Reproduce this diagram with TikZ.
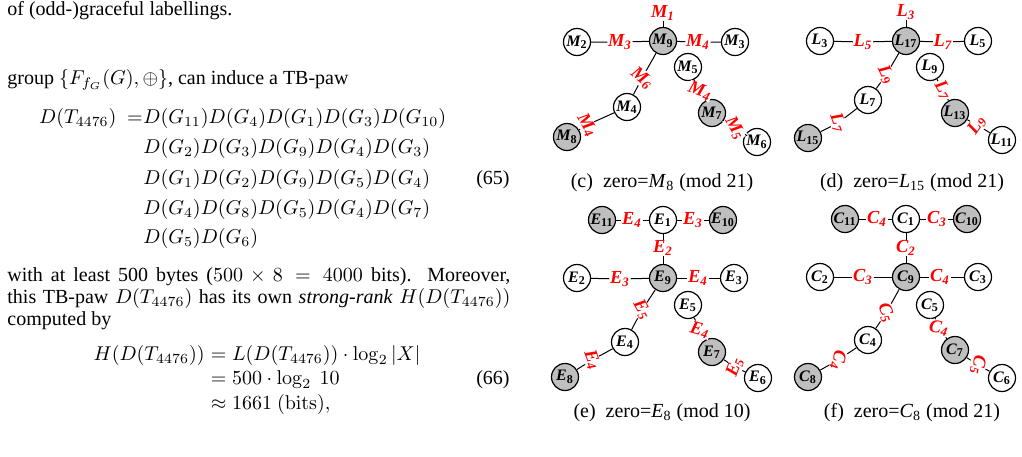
\documentclass[tikz,border=0pt]{standalone}
\usepackage[no-math]{fontspec}
\setmainfont{Liberation Serif}
\newcommand\vl[2]{#1\textsubscript{\upshape #2}}
\newcommand\elab[2]{#1\textsubscript{#2}}
\begin{document}
\begin{tikzpicture}[x=0.5pt,y=-0.5pt,
  txt/.style={anchor=base west,inner sep=0pt,font=\fontsize{10}{12}\selectfont},
  vtx/.style={circle,draw,line width=0.6pt,minimum size=13.5pt,inner sep=0pt,
    font=\fontsize{8}{8}\selectfont\bfseries\itshape},
  vtxg/.style={vtx,fill=gray!50},
  elb/.style={text=red,fill=white,inner sep=0.2pt,
    font=\fontsize{9.2}{9.2}\selectfont\bfseries\itshape},
  edg/.style={line width=0.5pt},
  capt/.style={anchor=base,inner sep=0pt,font=\fontsize{10}{12}\selectfont}]
\useasboundingbox (0,0) rectangle (1022,456);

% ---------------- left column text ----------------
\node[txt] (t1) at (7,15) {of (odd-)graceful labellings.};
\node[txt] (t2) at (7,84) {group $\{F_{f_G}(G),\oplus\}$, can induce a TB-paw};

\node[txt,anchor=base east] (e65l) at (143,123) {$D(T_{4476})\ =$};
\node[txt] (e65a) at (143,123) {$D(G_{11})D(G_4)D(G_1)D(G_3)D(G_{10})$};
\node[txt] (e65b) at (143,153) {$D(G_2)D(G_3)D(G_9)D(G_4)D(G_3)$};
\node[txt] (e65c) at (143,184) {$D(G_1)D(G_2)D(G_9)D(G_5)D(G_4)$};
\node[txt] (e65d) at (143,214) {$D(G_4)D(G_8)D(G_5)D(G_4)D(G_7)$};
\node[txt] (e65e) at (143,243) {$D(G_5)D(G_6)$};
\node[txt,anchor=base east] (n65) at (510,184) {(65)};

\node[txt] (p1) at (7,281) {\makebox[251.5pt][s]{with at least 500 bytes ($500\times 8=4000$ bits). Moreover,}};
\node[txt] (p2) at (7,303) {\makebox[251.5pt][s]{this TB-paw $D(T_{4476})$ has its own \textit{strong-rank} $H(D(T_{4476}))$}};
\node[txt] (p3) at (7,325) {computed by};

\node[txt,anchor=base east] (e66l) at (205,360) {$H(D(T_{4476}))$};
\node[txt] (e66a) at (205,360) {${}=L(D(T_{4476}))\cdot\log_2|X|$};
\node[txt] (e66b) at (205,384) {${}=500\cdot\log_2\ 10$};
\node[txt] (e66c) at (205,409) {${}\approx 1661\ (\mathrm{bits}),$};
\node[txt,anchor=base east] (n66) at (510,384) {(66)};

% ---------------- (c) ----------------
\node[vtxg] (cM9) at (663,41) {\vl{M}{9}};
\node[vtx]  (cM2) at (577,42) {\vl{M}{2}};
\node[vtx]  (cM3) at (735,42) {\vl{M}{3}};
\node[vtx]  (cM5) at (688,67) {\vl{M}{5}};
\node[vtx]  (cM4) at (627,107) {\vl{M}{4}};
\node[vtxg] (cM8) at (567,137) {\vl{M}{8}};
\node[vtxg] (cM7) at (712,113) {\vl{M}{7}};
\node[vtx]  (cM6) at (757,142) {\vl{M}{6}};
\node[elb] (ca) at (663,13) {\elab{M}{1}};
\node[elb] (cb) at (620,42) {\elab{M}{3}};
\node[elb] (cc) at (698,42) {\elab{M}{4}};
\node[elb,rotate=-40] (cd) at (642,78) {\elab{M}{6}};
\node[elb,rotate=-60] (ce) at (587,125) {\elab{M}{4}};
\node[elb,rotate=-20] (cf) at (700,91) {\elab{M}{4}};
\node[elb,rotate=-60] (cg) at (735,128) {\elab{M}{5}};
\draw[edg] (cM9) -- (ca);
\draw[edg] (cM2) -- (cb) -- (cM9);
\draw[edg] (cM9) -- (cc) -- (cM3);
\draw[edg] (cM9) -- (cd) -- (cM4);
\draw[edg] (cM4) -- (ce) -- (cM8);
\draw[edg] (cM5) -- (cf) -- (cM7);
\draw[edg] (cM7) -- (cg) -- (cM6);
\node[capt] (capc) at (662,187) {(c)\ \ zero=\textit{M}\textsubscript{8} (mod 21)};

% ---------------- (d) ----------------
\node[vtxg] (dL17) at (906,41) {\vl{L}{17}};
\node[vtx]  (dL3) at (820,41) {\vl{L}{3}};
\node[vtx]  (dL5) at (978,41) {\vl{L}{5}};
\node[vtx]  (dL9) at (930,67) {\vl{L}{9}};
\node[vtx]  (dL7) at (868,100) {\vl{L}{7}};
\node[vtxg] (dL15) at (808,138) {\vl{L}{15}};
\node[vtxg] (dL13) at (955,113) {\vl{L}{13}};
\node[vtx]  (dL11) at (1002,140) {\vl{L}{11}};
\node[elb] (da) at (906,12) {\elab{L}{3}};
\node[elb] (db) at (863,42) {\elab{L}{5}};
\node[elb] (dc) at (943,42) {\elab{L}{7}};
\node[elb,rotate=-65] (dd) at (886,75) {\elab{L}{9}};
\node[elb,rotate=-70] (de) at (838,123) {\elab{L}{7}};
\node[elb,rotate=-60] (df) at (943,90) {\elab{L}{7}};
\node[elb,rotate=55] (dg) at (977,125) {\elab{L}{9}};
\draw[edg] (dL17) -- (da);
\draw[edg] (dL3) -- (db) -- (dL17);
\draw[edg] (dL17) -- (dc) -- (dL5);
\draw[edg] (dL17) -- (dd) -- (dL7);
\draw[edg] (dL7) -- (de) -- (dL15);
\draw[edg] (dL9) -- (df) -- (dL13);
\draw[edg] (dL13) -- (dg) -- (dL11);
\node[capt] (capd) at (912,187) {(d)\ \ zero=\textit{L}\textsubscript{15} (mod 21)};

% ---------------- (e) ----------------
\node[vtxg] (eE11) at (602,220) {\vl{E}{11}};
\node[vtx]  (eE1) at (663,220) {\vl{E}{1}};
\node[vtxg] (eE10) at (723,220) {\vl{E}{10}};
\node[vtxg] (eE9) at (663,278) {\vl{E}{9}};
\node[vtx]  (eE2) at (577,278) {\vl{E}{2}};
\node[vtx]  (eE3) at (734,278) {\vl{E}{3}};
\node[vtx]  (eE5) at (688,305) {\vl{E}{5}};
\node[vtx]  (eE4) at (625,342) {\vl{E}{4}};
\node[vtxg] (eE8) at (565,377) {\vl{E}{8}};
\node[vtxg] (eE7) at (712,352) {\vl{E}{7}};
\node[vtx]  (eE6) at (758,378) {\vl{E}{6}};
\node[elb] (ea) at (632,220) {\elab{E}{4}};
\node[elb] (eb) at (693,220) {\elab{E}{3}};
\node[elb] (ec) at (663,248) {\elab{E}{2}};
\node[elb] (ed1) at (620,279) {\elab{E}{3}};
\node[elb] (ee) at (698,278) {\elab{E}{4}};
\node[elb,rotate=-60] (ef) at (642,310) {\elab{E}{5}};
\node[elb,rotate=-70] (eg) at (592,360) {\elab{E}{4}};
\node[elb,rotate=-15] (eh) at (700,330) {\elab{E}{4}};
\node[elb,rotate=70] (ei) at (735,367) {\elab{E}{5}};
\draw[edg] (eE11) -- (ea) -- (eE1);
\draw[edg] (eE1) -- (eb) -- (eE10);
\draw[edg] (eE1) -- (ec) -- (eE9);
\draw[edg] (eE2) -- (ed1) -- (eE9);
\draw[edg] (eE9) -- (ee) -- (eE3);
\draw[edg] (eE9) -- (ef) -- (eE4);
\draw[edg] (eE4) -- (eg) -- (eE8);
\draw[edg] (eE5) -- (eh) -- (eE7);
\draw[edg] (eE7) -- (ei) -- (eE6);
\node[capt] (cape) at (662,417) {(e)\ \ zero=\textit{E}\textsubscript{8} (mod 10)};

% ---------------- (f) ----------------
\node[vtxg] (fC11) at (845,219) {\vl{C}{11}};
\node[vtx]  (fC1) at (906,219) {\vl{C}{1}};
\node[vtxg] (fC10) at (967,219) {\vl{C}{10}};
\node[vtxg] (fC9) at (906,277) {\vl{C}{9}};
\node[vtx]  (fC2) at (820,277) {\vl{C}{2}};
\node[vtx]  (fC3) at (978,277) {\vl{C}{3}};
\node[vtx]  (fC5) at (930,305) {\vl{C}{5}};
\node[vtx]  (fC4) at (868,340) {\vl{C}{4}};
\node[vtxg] (fC8) at (808,377) {\vl{C}{8}};
\node[vtxg] (fC7) at (955,350) {\vl{C}{7}};
\node[vtx]  (fC6) at (1002,378) {\vl{C}{6}};
\node[elb] (fa) at (877,219) {\elab{C}{4}};
\node[elb] (fb) at (937,219) {\elab{C}{3}};
\node[elb] (fc) at (906,248) {\elab{C}{2}};
\node[elb] (fd) at (863,277) {\elab{C}{3}};
\node[elb] (fe) at (940,277) {\elab{C}{4}};
\node[elb,rotate=-70] (ff) at (886,313) {\elab{C}{5}};
\node[elb,rotate=-100] (fg) at (838,360) {\elab{C}{4}};
\node[elb,rotate=-10] (fh) at (939,328) {\elab{C}{4}};
\node[elb,rotate=-100] (fi) at (978,365) {\elab{C}{5}};
\draw[edg] (fC11) -- (fa) -- (fC1);
\draw[edg] (fC1) -- (fb) -- (fC10);
\draw[edg] (fC1) -- (fc) -- (fC9);
\draw[edg] (fC2) -- (fd) -- (fC9);
\draw[edg] (fC9) -- (fe) -- (fC3);
\draw[edg] (fC9) -- (ff) -- (fC4);
\draw[edg] (fC4) -- (fg) -- (fC8);
\draw[edg] (fC5) -- (fh) -- (fC7);
\draw[edg] (fC7) -- (fi) -- (fC6);
\node[capt] (capf) at (912,417) {(f)\ \ zero=\textit{C}\textsubscript{8} (mod 21)};
\end{tikzpicture}
\end{document}
